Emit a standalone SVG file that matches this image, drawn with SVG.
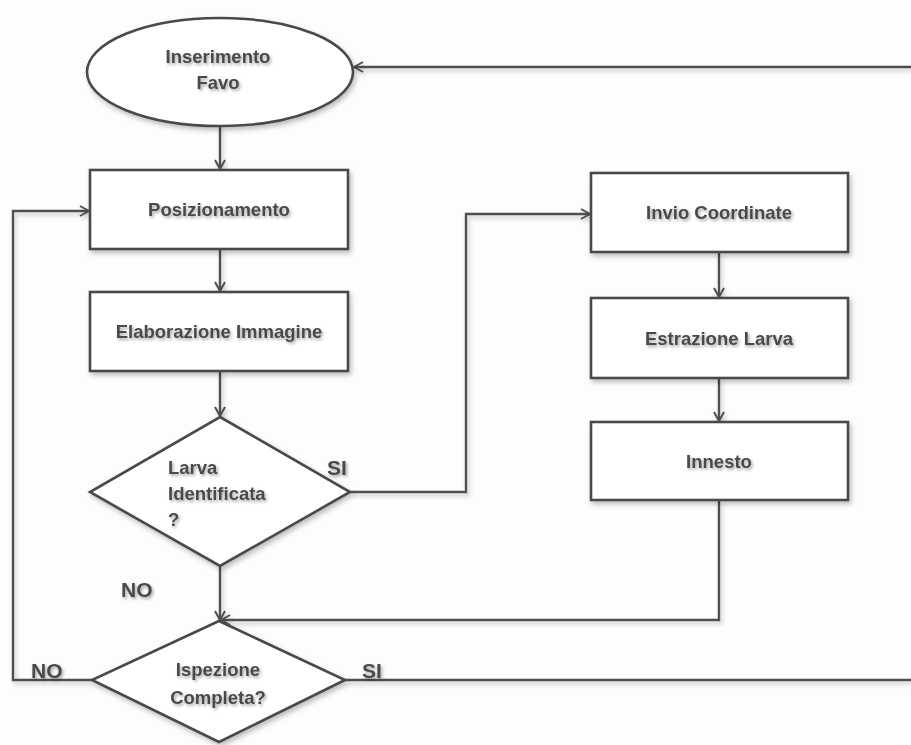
<svg xmlns="http://www.w3.org/2000/svg" width="911" height="745" viewBox="0 0 911 745">
<style>
.shape{fill:#ffffff;stroke:#4a4a4a;stroke-width:2.6;filter:url(#sh)}
.conn{fill:none;stroke:#4f4f4f;stroke-width:2.4;filter:url(#csh)}
.t{font-family:"Liberation Sans",Arial,sans-serif;font-weight:bold;font-size:18.5px;fill:#4a4a4a;filter:url(#tsh)}
.c{text-anchor:middle}
.lbl{font-size:21px}
</style>
<defs>
<filter id="sh" x="-10%" y="-10%" width="130%" height="130%">
<feDropShadow dx="2" dy="3" stdDeviation="2.5" flood-color="#000" flood-opacity="0.25"/>
</filter>
<filter id="csh" filterUnits="userSpaceOnUse" x="0" y="0" width="911" height="745">
<feDropShadow dx="2" dy="3" stdDeviation="2" flood-color="#000" flood-opacity="0.22"/>
</filter>
<filter id="tsh" x="-10%" y="-20%" width="130%" height="160%">
<feDropShadow dx="1.5" dy="2" stdDeviation="1.5" flood-color="#000" flood-opacity="0.35"/>
</filter>
<marker id="arr" viewBox="0 0 12 12" refX="11" refY="6" markerWidth="12" markerHeight="12" markerUnits="userSpaceOnUse" orient="auto">
<polyline points="2,1 11,6 2,11" fill="none" stroke="#4f4f4f" stroke-width="2"/>
</marker>
</defs>
<rect width="911" height="745" fill="#fdfdfd"/>
<g id="connectors">
<line class="conn" x1="220" y1="126" x2="220" y2="169" marker-end="url(#arr)"/>
<line class="conn" x1="220" y1="249" x2="220" y2="291" marker-end="url(#arr)"/>
<line class="conn" x1="220" y1="371" x2="220" y2="416" marker-end="url(#arr)"/>
<polyline class="conn" points="350,492 466,492 466,214 590,214" marker-end="url(#arr)"/>
<line class="conn" x1="719" y1="252" x2="719" y2="297" marker-end="url(#arr)"/>
<line class="conn" x1="719" y1="378" x2="719" y2="421" marker-end="url(#arr)"/>
<line class="conn" x1="220" y1="566" x2="220" y2="620" marker-end="url(#arr)"/>
<polyline class="conn" points="719,500 719,620 221,620" marker-end="url(#arr)"/>
<polyline class="conn" points="92,680 13,680 13,211 89,211" marker-end="url(#arr)"/>
<line class="conn" x1="345" y1="680" x2="911" y2="680"/>
<line class="conn" x1="911" y1="67" x2="354" y2="67" marker-end="url(#arr)"/>
</g>
<g id="inserimento">
<ellipse class="shape" cx="220" cy="72" rx="133" ry="54"/>
<text class="t c" x="218" y="63">Inserimento</text>
<text class="t c" x="218" y="89">Favo</text>
</g>
<g id="posizionamento">
<rect class="shape" x="90" y="170" width="258" height="79"/>
<text class="t c" x="219" y="216">Posizionamento</text>
</g>
<g id="elaborazione">
<rect class="shape" x="90" y="292" width="258" height="79"/>
<text class="t c" x="219" y="338">Elaborazione Immagine</text>
</g>
<g id="larva">
<polygon class="shape" points="220,417 350,492 220,566 90,492"/>
<text class="t" x="168" y="474">Larva</text>
<text class="t" x="168" y="500">Identificata</text>
<text class="t" x="168" y="526">?</text>
<text class="t lbl" x="327" y="475">SI</text>
<text class="t lbl" x="121" y="597">NO</text>
</g>
<g id="invio">
<rect class="shape" x="591" y="173" width="257" height="79"/>
<text class="t c" x="719" y="219">Invio Coordinate</text>
</g>
<g id="estrazione">
<rect class="shape" x="591" y="298" width="257" height="80"/>
<text class="t c" x="719" y="345">Estrazione Larva</text>
</g>
<g id="innesto">
<rect class="shape" x="591" y="422" width="257" height="78"/>
<text class="t c" x="719" y="468">Innesto</text>
</g>
<g id="ispezione">
<polygon class="shape" points="219,621 345,680 219,742 92,680"/>
<text class="t c" x="218" y="676">Ispezione</text>
<text class="t c" x="218" y="704">Completa?</text>
<text class="t lbl" x="31" y="678">NO</text>
<text class="t lbl" x="362" y="678">SI</text>
</g>
</svg>
